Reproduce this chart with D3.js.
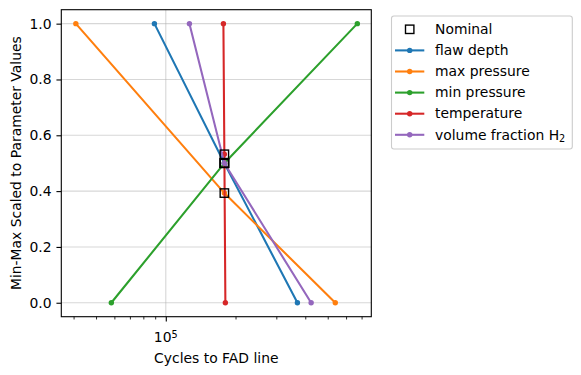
<!DOCTYPE html>
<html>
<head>
<meta charset="utf-8">
<script src="https://cdn.jsdelivr.net/npm/d3@7"></script>
<style>
  body { margin: 0; background: #fff; }
  svg { font-family: "DejaVu Sans", sans-serif; }
</style>
</head>
<body>
<div id="chart"></div>
<script>
// parameter names, cycles at scaled 0 / nominal / scaled 1
const names = ['flaw depth', 'max pressure', 'min pressure', 'temperature', 'volume fraction H'];
const colors = ['#1f77b4', '#ff7f0e', '#2ca02c', '#d62728', '#9467bd'];
const cyclesAtMin = [370000, 539000, 58200, 180800, 424000];
const cyclesAtMax = [89300, 40900, 671000, 177300, 126500];
const nominalCycles = 179000;
const nominalScaled = [0.5, 0.393, 0.5, 0.532, 0.5];
const yTicks = [0, 0.2, 0.4, 0.6, 0.8, 1.0];
const xMinorTicks = [40000, 50000, 60000, 70000, 80000, 90000, 200000, 300000, 400000, 500000, 600000, 700000];

const width = 581, height = 375;
const margin = {top: 9.7, right: 581 - 371.3, bottom: 375 - 316.7, left: 61.3};
const fs = 13.9;

const svg = d3.select('#chart').append('svg')
    .attr('width', width)
    .attr('height', height);

const x = d3.scaleLog()
    .domain([35400, 771000])
    .range([margin.left, width - margin.right]);

const y = d3.scaleLinear()
    .domain([-0.05, 1.05])
    .range([height - margin.bottom, margin.top]);

// grid
svg.append('g')
    .selectAll('line')
    .data(yTicks)
    .enter().append('line')
    .attr('x1', margin.left).attr('x2', width - margin.right)
    .attr('y1', d => y(d)).attr('y2', d => y(d))
    .attr('stroke', '#b0b0b0').attr('stroke-opacity', 0.5).attr('stroke-width', 1.1);

svg.append('line')
    .attr('x1', x(1e5)).attr('x2', x(1e5))
    .attr('y1', margin.top).attr('y2', height - margin.bottom)
    .attr('stroke', '#b0b0b0').attr('stroke-opacity', 0.5).attr('stroke-width', 1.1);

// series
const line = d3.line().x(d => x(d[0])).y(d => y(d[1]));

names.forEach(function (n, i) {
    const pts = [[cyclesAtMax[i], 1], [nominalCycles, nominalScaled[i]], [cyclesAtMin[i], 0]];
    const g = svg.append('g');
    g.append('path')
        .datum(pts)
        .attr('fill', 'none')
        .attr('stroke', colors[i])
        .attr('stroke-width', 2.08)
        .attr('d', line);
    g.selectAll('circle')
        .data(pts)
        .enter().append('circle')
        .attr('cx', d => x(d[0]))
        .attr('cy', d => y(d[1]))
        .attr('r', 2.7)
        .attr('fill', colors[i]);
});

// nominal markers
svg.append('g')
    .selectAll('rect')
    .data(nominalScaled)
    .enter().append('rect')
    .attr('x', x(nominalCycles) - 4.2)
    .attr('y', d => y(d) - 4.2)
    .attr('width', 8.4).attr('height', 8.4)
    .attr('fill', 'none')
    .attr('stroke', '#000')
    .attr('stroke-width', 1.39);

// frame
svg.append('rect')
    .attr('x', margin.left).attr('y', margin.top)
    .attr('width', width - margin.right - margin.left)
    .attr('height', height - margin.bottom - margin.top)
    .attr('fill', 'none').attr('stroke', '#000').attr('stroke-width', 1.1);

// y axis
const yAxis = d3.axisLeft(y).tickValues(yTicks).tickFormat(d3.format('.1f')).tickSize(4.86).tickPadding(4.86);
svg.append('g')
    .attr('transform', `translate(${margin.left},0)`)
    .call(yAxis)
    .call(g => g.select('.domain').remove())
    .call(g => g.selectAll('text').attr('font-size', fs).attr('fill', '#000').attr('font-family', 'DejaVu Sans'))
    .call(g => g.selectAll('line').attr('stroke-width', 1.1));

// x axis: minor ticks, major at 1e5
const xAxisMinor = d3.axisBottom(x).tickValues(xMinorTicks).tickSize(2.78).tickFormat('');
svg.append('g')
    .attr('transform', `translate(0,${height - margin.bottom})`)
    .call(xAxisMinor)
    .call(g => g.select('.domain').remove())
    .call(g => g.selectAll('line').attr('stroke-width', 0.83));

const xAxisMajor = d3.axisBottom(x).tickValues([1e5]).tickSize(4.86).tickFormat('');
svg.append('g')
    .attr('transform', `translate(0,${height - margin.bottom})`)
    .call(xAxisMajor)
    .call(g => g.select('.domain').remove())
    .call(g => g.selectAll('line').attr('stroke-width', 1.1));

const lab = svg.append('text')
    .attr('x', x(1e5))
    .attr('y', 342.3)
    .attr('text-anchor', 'middle')
    .attr('font-size', fs);
lab.append('tspan').text('10');
lab.append('tspan').attr('dy', -4.8).attr('font-size', 9.7).text('5');

svg.append('text')
    .attr('x', (margin.left + width - margin.right) / 2)
    .attr('y', 362.7)
    .attr('text-anchor', 'middle')
    .attr('font-size', fs)
    .text('Cycles to FAD line');

svg.append('text')
    .attr('transform', `translate(20.7,${(margin.top + height - margin.bottom) / 2}) rotate(-90)`)
    .attr('text-anchor', 'middle')
    .attr('font-size', fs)
    .text('Min-Max Scaled to Parameter Values');

// legend
const lg = svg.append('g');
lg.append('rect')
    .attr('x', 391.5).attr('y', 16)
    .attr('width', 180.8).attr('height', 133)
    .attr('rx', 2.5)
    .attr('fill', '#fff')
    .attr('stroke', '#cccccc').attr('stroke-width', 1.1);

const rowY = i => 29.3 + i * 21.1;
lg.append('rect')
    .attr('x', 409.7 - 4.2).attr('y', rowY(0) - 4.2)
    .attr('width', 8.4).attr('height', 8.4)
    .attr('fill', 'none').attr('stroke', '#000').attr('stroke-width', 1.39);
lg.append('text')
    .attr('x', 435).attr('y', rowY(0) + 4.7)
    .attr('font-size', fs)
    .text('Nominal');

names.forEach(function (n, i) {
    const yy = rowY(i + 1);
    lg.append('line')
        .attr('x1', 395).attr('x2', 424.3)
        .attr('y1', yy).attr('y2', yy)
        .attr('stroke', colors[i]).attr('stroke-width', 2.08);
    lg.append('circle')
        .attr('cx', 409.7).attr('cy', yy).attr('r', 2.7)
        .attr('fill', colors[i]);
    const t = lg.append('text')
        .attr('x', 435).attr('y', yy + 4.7)
        .attr('font-size', fs)
        .text(n);
    if (i === 4) {
        t.append('tspan').attr('dy', 2.8).attr('font-size', 9.7).text('2');
    }
});
</script>
</body>
</html>
